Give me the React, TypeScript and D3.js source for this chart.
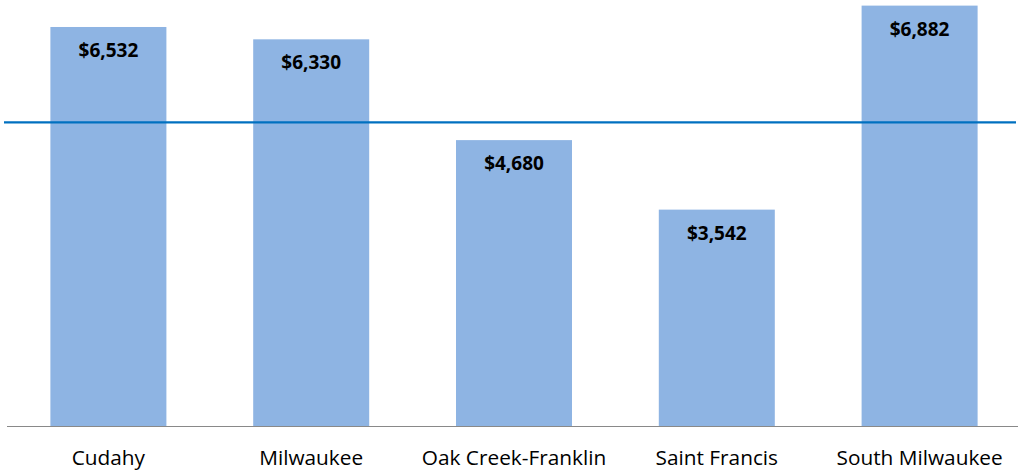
import React from "react";
import * as d3 from "d3";

const categories: string[] = ["Cudahy", "Milwaukee", "Oak Creek-Franklin", "Saint Francis", "South Milwaukee"];
const values: number[] = [6532, 6330, 4680, 3542, 6882];
const referenceValue = 4972;

const W = 1018;
const H = 472;

export default function App() {
  const x = d3
    .scaleBand<string>()
    .domain(categories)
    .range([7, 1021])
    .paddingInner(0.428)
    .paddingOuter(0.214);
  const y = d3.scaleLinear().domain([0, 7000]).range([426, -1.6]);
  const fmt = (v: number) => "$" + d3.format(",")(v);

  return (
    <svg
      width={W}
      height={H}
      style={{ position: "absolute", left: 0, top: 0, background: "#fff" }}
    >
      {categories.map((c, i) => (
        <g key={c}>
          <rect
            x={x(c)!}
            y={y(values[i])}
            width={x.bandwidth()}
            height={y(0) - y(values[i])}
            fill="#8EB4E3"
          />
          <text
            x={x(c)! + x.bandwidth() / 2}
            y={y(values[i]) + 30}
            textAnchor="middle"
            fontFamily="'Open Sans', sans-serif"
            fontWeight="bold"
            fontSize={19}
            fill="#000"
          >
            {fmt(values[i])}
          </text>
          <text
            x={x(c)! + x.bandwidth() / 2}
            y={465}
            textAnchor="middle"
            fontFamily="'Open Sans', sans-serif"
            fontSize={20.8}
            fill="#000"
          >
            {c}
          </text>
        </g>
      ))}
      <line x1={7} x2={W} y1={y(0) + 0.5} y2={y(0) + 0.5} stroke="#898989" strokeWidth={1} />
      <line
        x1={4}
        x2={1016}
        y1={y(referenceValue)}
        y2={y(referenceValue)}
        stroke="#0070C0"
        strokeWidth={2.2}
      />
    </svg>
  );
}
